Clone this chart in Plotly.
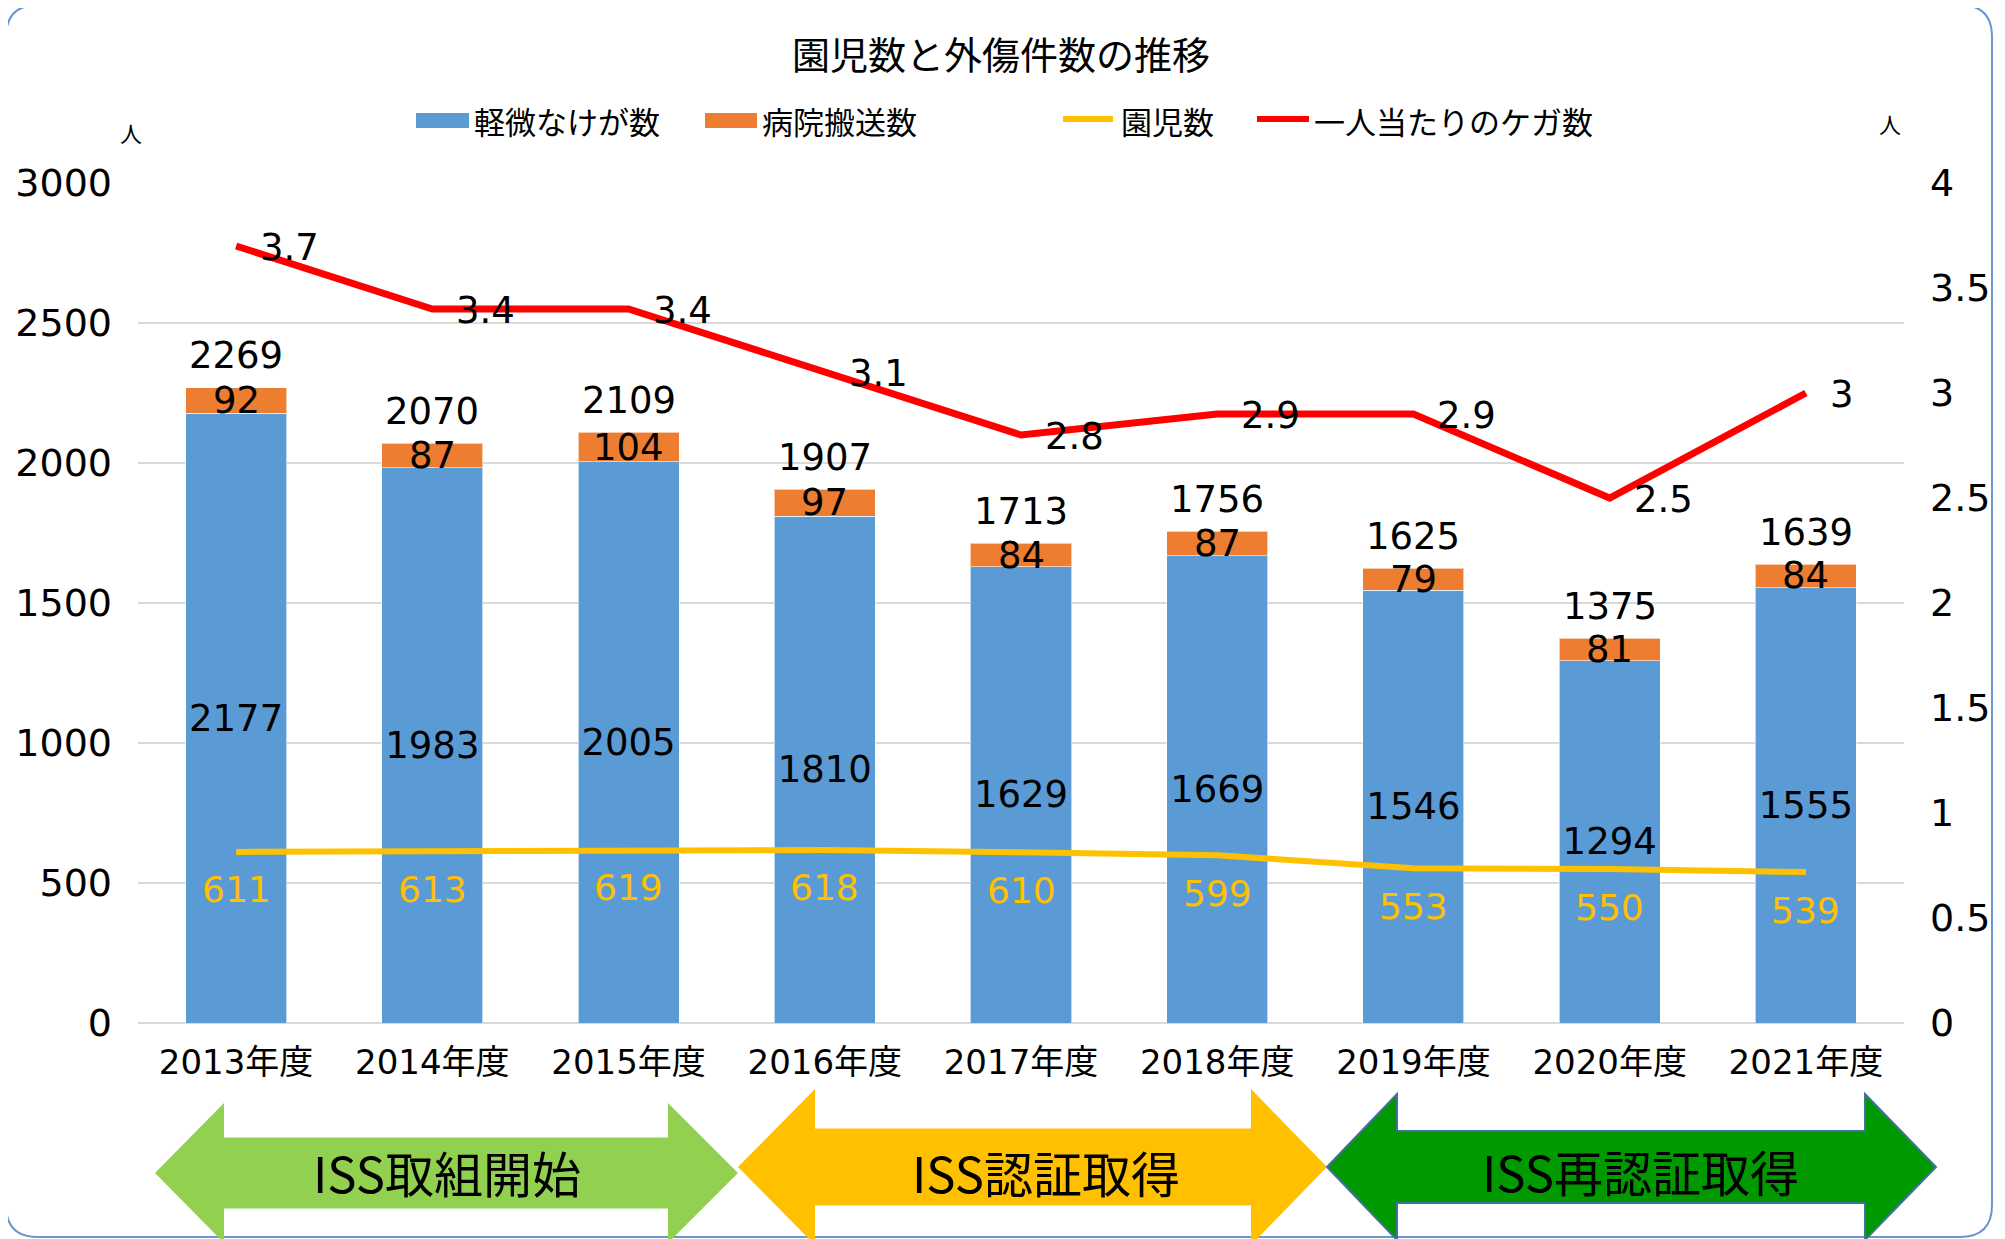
import plotly.graph_objects as go

# ---------------- data ----------------
years = ["2013年度", "2014年度", "2015年度", "2016年度", "2017年度",
         "2018年度", "2019年度", "2020年度", "2021年度"]
minor_injuries = [2177, 1983, 2005, 1810, 1629, 1669, 1546, 1294, 1555]
hospital_transfers = [92, 87, 104, 97, 84, 87, 79, 81, 84]
children = [611, 613, 619, 618, 610, 599, 553, 550, 539]
injuries_per_child = [3.7, 3.4, 3.4, 3.1, 2.8, 2.9, 2.9, 2.5, 3]
totals = [a + b for a, b in zip(minor_injuries, hospital_transfers)]

legend_names = ["軽微なけが数", "病院搬送数", "園児数", "一人当たりのケガ数"]
title_text = "園児数と外傷件数の推移"
phase_labels = ["ISS取組開始", "ISS認証取得", "ISS再認証取得"]

# ---------------- style ----------------
BLUE = "#5B9BD5"
ORANGE = "#ED7D31"
YELLOW = "#FFC000"
RED = "#FF0000"
GRID = "#D9D9D9"
NUM_FONT = "DejaVu Sans, Noto Sans CJK JP"
JP_FONT = "Noto Sans CJK JP, DejaVu Sans"

W_PX, H_PX = 2005, 1239          # target screenshot size
OFF = 8                           # default page body margin
PL, PR, PT, PB = 138, 1904, 183, 1023   # plot area in screenshot pixels
PW, PH = PR - PL, PB - PT


def px(x):
    return (x - PL) / PW


def py(y):
    return (PB - y) / PH


fig = go.Figure()

fig.add_trace(go.Bar(
    x=years, y=minor_injuries, name=legend_names[0], marker_color=BLUE,
    marker_line=dict(color="rgba(255,255,255,0.6)", width=1),
    text=[str(v) for v in minor_injuries], textposition="inside",
    insidetextanchor="middle", textangle=0, constraintext="none",
    textfont=dict(family=NUM_FONT, size=37, color="black"),
    showlegend=False, yaxis="y"))
fig.add_trace(go.Bar(
    x=years, y=hospital_transfers, name=legend_names[1], marker_color=ORANGE,
    marker_line=dict(color="rgba(255,255,255,0.6)", width=1),
    showlegend=False, yaxis="y"))
fig.add_trace(go.Scatter(
    x=years, y=children, name=legend_names[2], mode="lines",
    line=dict(color=YELLOW, width=6), showlegend=False, yaxis="y"))
fig.add_trace(go.Scatter(
    x=years, y=injuries_per_child, name=legend_names[3], mode="lines",
    line=dict(color=RED, width=7), showlegend=False, yaxis="y2"))

ann = []
for yr, t in zip(years, totals):
    ann.append(dict(x=yr, y=t, xref="x", yref="y", text=str(t), showarrow=False,
                    yanchor="middle", yshift=32,
                    font=dict(family=NUM_FONT, size=37, color="black")))
for yr, a, b in zip(years, minor_injuries, hospital_transfers):
    ann.append(dict(x=yr, y=a + b / 2, xref="x", yref="y", text=str(b), showarrow=False,
                    yanchor="middle",
                    font=dict(family=NUM_FONT, size=37, color="black")))
for yr, c in zip(years, children):
    ann.append(dict(x=yr, y=c, xref="x", yref="y", text=str(c), showarrow=False,
                    yanchor="middle", yshift=-38,
                    font=dict(family=NUM_FONT, size=36, color=YELLOW)))
for yr, r in zip(years, injuries_per_child):
    ann.append(dict(x=yr, y=r, xref="x", yref="y2", text=f"{r:g}", showarrow=False,
                    xanchor="left", yanchor="middle", xshift=22, yshift=-1,
                    font=dict(family=NUM_FONT, size=37, color="black")))

ann.append(dict(x=px(1001), y=py(52), xref="paper", yref="paper", text=title_text,
                showarrow=False, xanchor="center", yanchor="middle",
                font=dict(family=JP_FONT, size=38, color="black")))
ann.append(dict(x=px(131), y=py(132), xref="paper", yref="paper", text="人",
                showarrow=False, xanchor="center", yanchor="middle",
                font=dict(family=JP_FONT, size=22, color="black")))
ann.append(dict(x=px(1890), y=py(123), xref="paper", yref="paper", text="人",
                showarrow=False, xanchor="center", yanchor="middle",
                font=dict(family=JP_FONT, size=22, color="black")))

shapes = []
legend_y = 120
shapes.append(dict(type="rect", xref="paper", yref="paper", x0=px(416), x1=px(469),
                   y0=py(128), y1=py(113), fillcolor=BLUE, line=dict(width=0)))
shapes.append(dict(type="rect", xref="paper", yref="paper", x0=px(705), x1=px(757),
                   y0=py(128), y1=py(113), fillcolor=ORANGE, line=dict(width=0)))
shapes.append(dict(type="line", xref="paper", yref="paper", x0=px(1063), x1=px(1113),
                   y0=py(119), y1=py(119), line=dict(color=YELLOW, width=6)))
shapes.append(dict(type="line", xref="paper", yref="paper", x0=px(1257), x1=px(1309),
                   y0=py(119), y1=py(119), line=dict(color=RED, width=6)))
for xpos, name in zip([472, 760, 1119, 1312], legend_names):
    ann.append(dict(x=px(xpos), y=py(legend_y), xref="paper", yref="paper", text=name,
                    showarrow=False, xanchor="left", yanchor="middle",
                    font=dict(family=JP_FONT, size=31, color="black")))


def arrow_path(xl, xs0, xs1, xr, ymid, sh, hh):
    pts = [(xl, ymid), (xs0, ymid - hh), (xs0, ymid - sh), (xs1, ymid - sh),
           (xs1, ymid - hh), (xr, ymid), (xs1, ymid + hh), (xs1, ymid + sh),
           (xs0, ymid + sh), (xs0, ymid + hh)]
    return "M " + " L ".join(f"{px(a):.5f},{py(b):.5f}" for a, b in pts) + " Z"


arrows = [
    dict(geom=(155, 224, 668, 738, 1173, 35.5, 70), fill="#92D050", line=None,
         tx=447, ty=1171),
    dict(geom=(738, 815, 1251, 1327, 1167, 38.5, 78), fill="#FFC000", line=None,
         tx=1046, ty=1171),
    dict(geom=(1327, 1397, 1865, 1936, 1167, 36, 73), fill="#009900", line="#41719C",
         tx=1640, ty=1170),
]
for a, label in zip(arrows, phase_labels):
    shapes.append(dict(type="path", xref="paper", yref="paper", path=arrow_path(*a["geom"]),
                       fillcolor=a["fill"],
                       line=dict(color=a["line"] or a["fill"], width=2 if a["line"] else 0),
                       layer="above"))
    ann.append(dict(x=px(a["tx"]), y=py(a["ty"]), xref="paper", yref="paper", text=label,
                    showarrow=False, xanchor="center", yanchor="middle",
                    font=dict(family=JP_FONT, size=49, color="black")))

bx0, by0, bx1, by1, r = 6, 5, 1992, 1237, 32
bd = (f"M {px(bx0 + r)},{py(by0)} L {px(bx1 - r)},{py(by0)} "
      f"Q {px(bx1)},{py(by0)} {px(bx1)},{py(by0 + r)} "
      f"L {px(bx1)},{py(by1 - r)} Q {px(bx1)},{py(by1)} {px(bx1 - r)},{py(by1)} "
      f"L {px(bx0 + r)},{py(by1)} Q {px(bx0)},{py(by1)} {px(bx0)},{py(by1 - r)} "
      f"L {px(bx0)},{py(by0 + r)} Q {px(bx0)},{py(by0)} {px(bx0 + r)},{py(by0)} Z")
shapes.append(dict(type="path", xref="paper", yref="paper", path=bd,
                   line=dict(color="#6A96D2", width=2), fillcolor="rgba(0,0,0,0)",
                   layer="below"))

fig.update_layout(
    width=W_PX - OFF, height=H_PX - OFF,
    margin=dict(l=PL - OFF, r=W_PX - PR, t=PT - OFF, b=H_PX - PB, pad=0,
                autoexpand=False),
    paper_bgcolor="white", plot_bgcolor="white",
    barmode="stack", bargap=0.485,
    showlegend=False,
    font=dict(family=NUM_FONT, size=36, color="black"),
    xaxis=dict(type="category", categoryorder="array", categoryarray=years,
               showgrid=False, showline=False, ticks="", zeroline=False,
               automargin=False,
               tickfont=dict(family=NUM_FONT, size=34, color="black"),
               ticklabelstandoff=16),
    yaxis=dict(range=[0, 3000], dtick=500, tick0=0, showgrid=True, gridcolor=GRID,
               gridwidth=2, zeroline=True, zerolinecolor=GRID, zerolinewidth=2,
               showline=False, ticks="", automargin=False,
               tickfont=dict(family=NUM_FONT, size=38, color="black"),
               ticklabelstandoff=25),
    yaxis2=dict(range=[0, 4], dtick=0.5, tick0=0, overlaying="y", side="right",
                showgrid=False, zeroline=False, showline=False, ticks="",
                automargin=False,
                tickfont=dict(family=NUM_FONT, size=38, color="black"),
                ticklabelstandoff=25),
    annotations=ann, shapes=shapes,
)

fig.write_html("out.html")
